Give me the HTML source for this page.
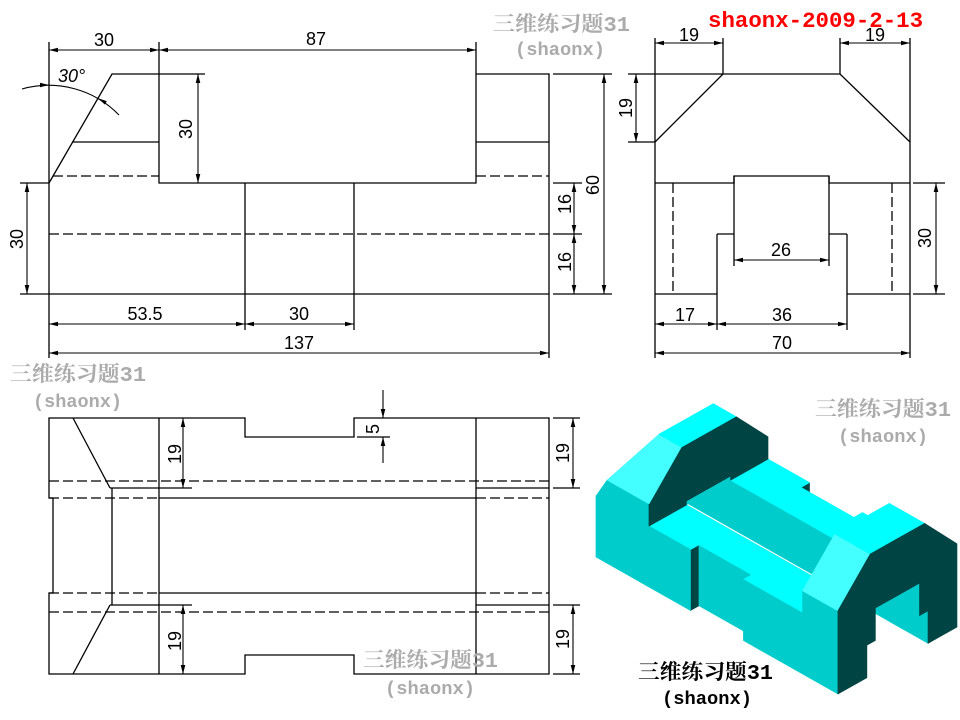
<!DOCTYPE html>
<html><head><meta charset="utf-8"><style>
html,body{margin:0;padding:0;background:#fff}
svg{display:block}
.iso *{vector-effect:non-scaling-stroke;stroke-width:0.7;stroke-linejoin:round}
.d{font-family:"Liberation Sans",Arial,sans-serif;font-size:18px;fill:#000}
.wm{font-family:"Liberation Mono","Noto Serif CJK SC",serif;fill:#ababab;font-weight:bold}
.bk{font-family:"Liberation Mono","Noto Serif CJK SC",serif;fill:#000;font-weight:bold}
</style></head><body>
<svg width="960" height="720" viewBox="0 0 960 720" xmlns="http://www.w3.org/2000/svg">
<defs>
<marker id="a" markerWidth="10" markerHeight="7" refX="9" refY="3" orient="auto-start-reverse" markerUnits="userSpaceOnUse"><path d="M0,0.7 L9,3 L0,5.3 z" fill="#000"/></marker>
</defs>
<rect width="960" height="720" fill="#fff"/>

<!-- ================= FRONT VIEW ================= -->
<g stroke="#000" stroke-width="1.3" fill="none">
<path d="M49,183 L112,74 L159,74"/>
<path d="M72,142 L159,142"/>
<path d="M49,42 L49,183"/>
<path d="M159,42 L159,183 L476,183 L476,42"/>
<path d="M476,74 L549,74 L549,358"/>
<path d="M476,142 L549,142"/>
<path d="M49,183 L49,358"/>
<path d="M20,294 L549,294"/>
<path d="M553,294 L612,294"/>
<path d="M20,183 L49,183"/>
<path d="M245,183 L245,330"/>
<path d="M354,183 L354,330"/>
<path d="M553,183 L582,183"/>
<path d="M553,234 L582,234"/>
<path d="M553,74 L612,74"/>
<path d="M159,74 L205,74"/>
<g stroke-dasharray="10 4">
<path d="M53,176 L159,176"/>
<path d="M476,176 L549,176"/>
<path d="M49,234 L549,234"/>
</g>
<g stroke-width="1.1" marker-start="url(#a)" marker-end="url(#a)">
<path d="M49,50 L159,50"/>
<path d="M159,50 L476,50"/>
<path d="M198,74 L198,183"/>
<path d="M27,183 L27,294"/>
<path d="M574,183 L574,234"/>
<path d="M574,234 L574,294"/>
<path d="M604,74 L604,294"/>
<path d="M49,324 L245,324"/>
<path d="M245,324 L354,324"/>
<path d="M49,353 L549,353"/>
</g>
<path d="M22,89 A98,98 0 0,1 119,115" stroke-width="1.1"/>
</g>
<polygon points="49,85 40,82.8 40,87.2" fill="#000"/>
<polygon points="98,98.3 106.8,101.1 104.8,104.5" fill="#000"/>
<text class="d" x="104" y="46" text-anchor="middle">30</text>
<text class="d" x="316" y="45" text-anchor="middle">87</text>
<text class="d" transform="translate(192,129) rotate(-90)" text-anchor="middle">30</text>
<text class="d" transform="translate(23,239) rotate(-90)" text-anchor="middle">30</text>
<text class="d" transform="translate(571,204) rotate(-90)" text-anchor="middle">16</text>
<text class="d" transform="translate(571,262) rotate(-90)" text-anchor="middle">16</text>
<text class="d" transform="translate(599,185) rotate(-90)" text-anchor="middle">60</text>
<text class="d" x="145" y="320" text-anchor="middle">53.5</text>
<text class="d" x="299" y="320" text-anchor="middle">30</text>
<text class="d" x="299" y="349" text-anchor="middle">137</text>
<text class="d" x="58" y="82" font-style="italic" font-size="17">30°</text>

<!-- ================= SIDE VIEW ================= -->
<g stroke="#000" stroke-width="1.3" fill="none">
<path d="M655,38 L655,358"/>
<path d="M910,38 L910,358"/>
<path d="M655,142 L723,74 L840,74 L910,142"/>
<path d="M723,38 L723,74"/>
<path d="M840,38 L840,74"/>
<path d="M628,74 L723,74"/>
<path d="M628,142 L655,142"/>
<path d="M655,183 L734,183 L734,176 L829,176 L829,183 L910,183"/>
<path d="M734,176 L734,266"/>
<path d="M829,176 L829,266"/>
<path d="M717,234 L734,234"/>
<path d="M829,234 L847,234"/>
<path d="M717,234 L717,330"/>
<path d="M847,234 L847,330"/>
<path d="M655,294 L717,294"/>
<path d="M847,294 L910,294"/>
<path d="M913,294 L945,294"/>
<path d="M913,183 L945,183"/>
<g stroke-dasharray="10 4">
<path d="M673,183 L673,294"/>
<path d="M892,183 L892,294"/>
</g>
<g stroke-width="1.1" marker-start="url(#a)" marker-end="url(#a)">
<path d="M655,43 L723,43"/>
<path d="M840,43 L910,43"/>
<path d="M636,74 L636,142"/>
<path d="M734,260 L829,260"/>
<path d="M936,183 L936,294"/>
<path d="M655,324 L717,324"/>
<path d="M717,324 L847,324"/>
<path d="M655,353 L910,353"/>
</g>
</g>
<text class="d" x="689" y="41" text-anchor="middle">19</text>
<text class="d" x="875" y="41" text-anchor="middle">19</text>
<text class="d" transform="translate(632,108) rotate(-90)" text-anchor="middle">19</text>
<text class="d" x="781" y="256" text-anchor="middle">26</text>
<text class="d" transform="translate(931,238) rotate(-90)" text-anchor="middle">30</text>
<text class="d" x="685" y="321" text-anchor="middle">17</text>
<text class="d" x="782" y="321" text-anchor="middle">36</text>
<text class="d" x="782" y="349" text-anchor="middle">70</text>

<!-- ================= TOP VIEW ================= -->
<g stroke="#000" stroke-width="1.3" fill="none">
<path d="M49,418 L245,418 L245,437 L354,437 L354,418 L549,418 L549,674 L354,674 L354,655 L245,655 L245,674 L49,674 L49,593 L53,593 L53,498 L49,498 Z"/>
<path d="M73,418 L110,488"/>
<path d="M110,488 L192,488"/>
<path d="M112,488 L112,605"/>
<path d="M110,605 L192,605"/>
<path d="M110,605 L73,674"/>
<path d="M159,418 L159,674"/>
<path d="M476,418 L476,674"/>
<path d="M159,498 L476,498"/>
<path d="M159,593 L476,593"/>
<path d="M476,488 L549,488"/>
<path d="M476,605 L549,605"/>
<path d="M553,418 L580,418"/>
<path d="M553,488 L580,488"/>
<path d="M553,605 L580,605"/>
<path d="M553,674 L580,674"/>
<path d="M357,437 L390,437"/>
<g stroke-dasharray="10 4">
<path d="M49,481 L549,481"/>
<path d="M49,612 L549,612"/>
<path d="M49,498 L159,498"/>
<path d="M476,498 L549,498"/>
<path d="M49,593 L159,593"/>
<path d="M476,593 L549,593"/>
</g>
<g stroke-width="1.1" marker-start="url(#a)" marker-end="url(#a)">
<path d="M183,418 L183,488"/>
<path d="M183,605 L183,674"/>
<path d="M573,418 L573,488"/>
<path d="M573,605 L573,674"/>
</g>
<g stroke-width="1.1" marker-end="url(#a)">
<path d="M383,390 L383,418"/>
<path d="M383,463 L383,437"/>
</g>
</g>
<text class="d" transform="translate(181,454) rotate(-90)" text-anchor="middle">19</text>
<text class="d" transform="translate(181,641) rotate(-90)" text-anchor="middle">19</text>
<text class="d" transform="translate(569,453) rotate(-90)" text-anchor="middle">19</text>
<text class="d" transform="translate(569,639) rotate(-90)" text-anchor="middle">19</text>
<text class="d" transform="translate(379,429) rotate(-90)" text-anchor="middle">5</text>

<!-- ================= ISOMETRIC ================= -->
<g class="iso">
<polygon transform="matrix(1.7 -0.957 0 -2.03 690.481 610.5)" points="65,0 70,0 70,30 65,30" fill="#004444" stroke="#004444"/>
<polygon transform="matrix(1.766 1 0 -2.03 686.1 506.279)" points="0,0 137,0 137,16 0,16" fill="#00cccc" stroke="#00cccc"/>
<polygon transform="matrix(1.766 1 0 -2.03 677.6 511.064)" points="0,16 137,16 137,32 0,32" fill="#00cccc" stroke="#00cccc"/>
<polygon transform="matrix(1.766 1 1.7 -0.957 596 496.1)" points="30,48 117,48 117,70 83.5,70 83.5,65 53.5,65 53.5,70 30,70" fill="#00ffff" stroke="#00ffff"/>
<polygon transform="matrix(1.7 -0.957 0 -2.03 690.481 610.5)" points="0,0 5,0 5,30 0,30" fill="#004444" stroke="#004444"/>
<polygon transform="matrix(1.766 1 0 -2.03 604.5 552.215)" points="53.5,0 83.5,0 83.5,30 53.5,30" fill="#00cccc" stroke="#00cccc"/>
<polygon transform="matrix(1.766 1 1.7 -0.957 596 496.1)" points="30,0 53.5,0 53.5,5 83.5,5 83.5,0 117,0 117,22 30,22" fill="#00ffff" stroke="#00ffff"/>
<polygon transform="matrix(1.766 1 1.7 -0.957 596 496.1)" points="30,22.3 117,22.3 117,23 30,23" fill="#ffffff" stroke="none"/>
<polygon transform="matrix(1.766 1 0 -2.03 596 557)" points="0,0 0,30 6.35,41 30,41 30,30 53.5,30 53.5,0" fill="#00cccc" stroke="#00cccc"/>
<polygon transform="matrix(1.7 -0.957 0 -2.03 648.98 587)" points="0,30 0,41 19,60 51,60 70,41 70,30 48,30 48,32 22,32 22,30" fill="#004444" stroke="#004444"/>
<polygon transform="matrix(1.766 1 1.7 -2.987 596 473.77)" points="6.35,0 17.32,19 30,19 30,0" fill="#44ffff" stroke="#44ffff"/>
<polygon transform="matrix(1.766 1 1.7 -0.957 596 435.2)" points="17.32,19 30,19 30,51 17.32,51" fill="#00ffff" stroke="#00ffff"/>
<polygon transform="matrix(1.766 1 0 -2.03 596 557)" points="83.5,0 83.5,30 117,30 117,41 137,41 137,0" fill="#00cccc" stroke="#00cccc"/>
<polygon transform="matrix(1.766 1 1.7 -2.987 596 473.77)" points="117,0 117,19 137,19 137,0" fill="#44ffff" stroke="#44ffff"/>
<polygon transform="matrix(1.766 1 1.7 -0.957 596 435.2)" points="117,19 137,19 137,51 117,51" fill="#00ffff" stroke="#00ffff"/>
<polygon transform="matrix(1.7 -0.957 0 -2.03 837.942 694)" points="0,0 0,41 19,60 51,60 70,41 70,0 53,0 53,16 48,16 48,32 22,32 22,16 17,16 17,0" fill="#004444" stroke="#004444"/>
</g>

<!-- ================= LABELS ================= -->
<text class="wm" x="493" y="31" font-size="21" textLength="137" lengthAdjust="spacingAndGlyphs">三维练习题31</text>
<text class="wm" x="515" y="55" font-size="18" textLength="90" lengthAdjust="spacingAndGlyphs">(shaonx)</text>
<text class="wm" x="10" y="381" font-size="21" textLength="136" lengthAdjust="spacingAndGlyphs">三维练习题31</text>
<text class="wm" x="33" y="407" font-size="18" textLength="89" lengthAdjust="spacingAndGlyphs">(shaonx)</text>
<text class="wm" x="815" y="416" font-size="21" textLength="136" lengthAdjust="spacingAndGlyphs">三维练习题31</text>
<text class="wm" x="838" y="442" font-size="18" textLength="90" lengthAdjust="spacingAndGlyphs">(shaonx)</text>
<text class="wm" x="363" y="667" font-size="21" textLength="135" lengthAdjust="spacingAndGlyphs">三维练习题31</text>
<text class="wm" x="385" y="694" font-size="18" textLength="90" lengthAdjust="spacingAndGlyphs">(shaonx)</text>
<text class="bk" x="638" y="679" font-size="21" textLength="135" lengthAdjust="spacingAndGlyphs">三维练习题31</text>
<text class="bk" x="662" y="704" font-size="18" textLength="90" lengthAdjust="spacingAndGlyphs">(shaonx)</text>
<text x="708" y="27" font-family="'Liberation Mono',monospace" font-weight="bold" font-size="22" fill="#ff0000" textLength="215" lengthAdjust="spacingAndGlyphs">shaonx-2009-2-13</text>
</svg>
</body></html>
